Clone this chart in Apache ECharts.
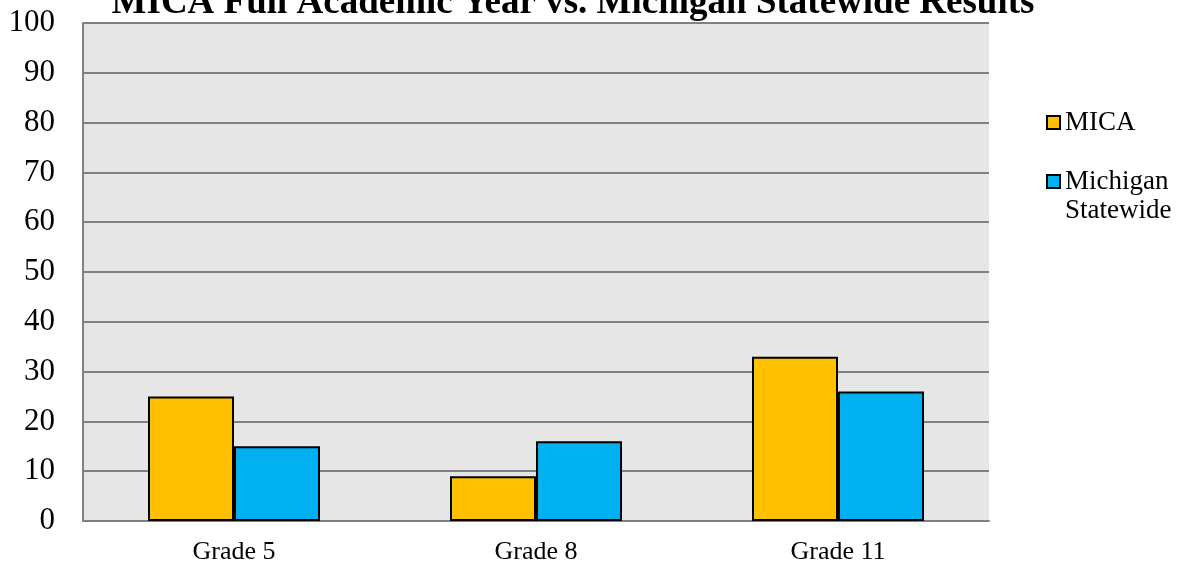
<!DOCTYPE html>
<html>
<head>
<meta charset="utf-8">
<script src="https://cdn.jsdelivr.net/npm/echarts@6/dist/echarts.min.js"></script>
<style>
  html, body { margin: 0; padding: 0; background: #fff; }
  #chart { width: 1183px; height: 569px; }
</style>
</head>
<body>
<div id="chart"></div>
<script>
// data
const categories = ['Grade 5', 'Grade 8', 'Grade 11']
const micaValues = [25, 9, 33]
const stateValues = [15, 16, 26]
const seriesNames = ['MICA', 'Michigan Statewide']

const serif = '"Liberation Serif", "DejaVu Serif", serif'

const chart = echarts.init(document.getElementById('chart'))
chart.setOption({
  animation: false,
  title: {
    text: 'MICA Full Academic Year vs. Michigan Statewide Results',
    left: 568,
    textAlign: 'center',
    top: -20,
    textStyle: {
      fontFamily: serif,
      fontWeight: 'bold',
      fontSize: 37,
      color: '#000'
    }
  },
  legend: {
    orient: 'vertical',
    left: 1041,
    top: 103,
    itemWidth: 13,
    itemHeight: 13,
    itemGap: 1,
    icon: 'rect',
    data: seriesNames,
    // empty first line keeps the icon level with "Michigan", like the reference
    formatter: name => name.indexOf(' ') > 0 ? ' \n' + name.replace(' ', '\n') : name,
    textStyle: {
      fontFamily: serif,
      fontSize: 27,
      lineHeight: 29,
      color: '#000'
    }
  },
  grid: {
    left: 83,
    right: 194,
    top: 23,
    bottom: 48,
    show: true,
    backgroundColor: '#e6e6e6',
    borderWidth: 0
  },
  xAxis: {
    type: 'category',
    data: categories,
    axisTick: { show: false },
    axisLine: { lineStyle: { color: '#808080', width: 2 } },
    axisLabel: {
      margin: 18,
      fontFamily: serif,
      fontSize: 26,
      color: '#000'
    }
  },
  yAxis: {
    type: 'value',
    min: 0,
    max: 100,
    interval: 10,
    axisLine: { show: true, lineStyle: { color: '#808080', width: 2 } },
    axisTick: { show: false },
    splitLine: { lineStyle: { color: '#808080', width: 2 } },
    axisLabel: {
      margin: 28,
      fontFamily: serif,
      fontSize: 31,
      color: '#000'
    }
  },
  series: [
    {
      name: seriesNames[0],
      type: 'bar',
      data: micaValues,
      barWidth: 86,
      barGap: '0%',
      itemStyle: { color: '#ffc000', borderColor: '#000', borderWidth: 2 }
    },
    {
      name: seriesNames[1],
      type: 'bar',
      data: stateValues,
      barWidth: 86,
      barGap: '0%',
      itemStyle: { color: '#00b0f0', borderColor: '#000', borderWidth: 2 }
    }
  ]
})

window.onresize = function () {
  chart.resize()
}
</script>
</body>
</html>
